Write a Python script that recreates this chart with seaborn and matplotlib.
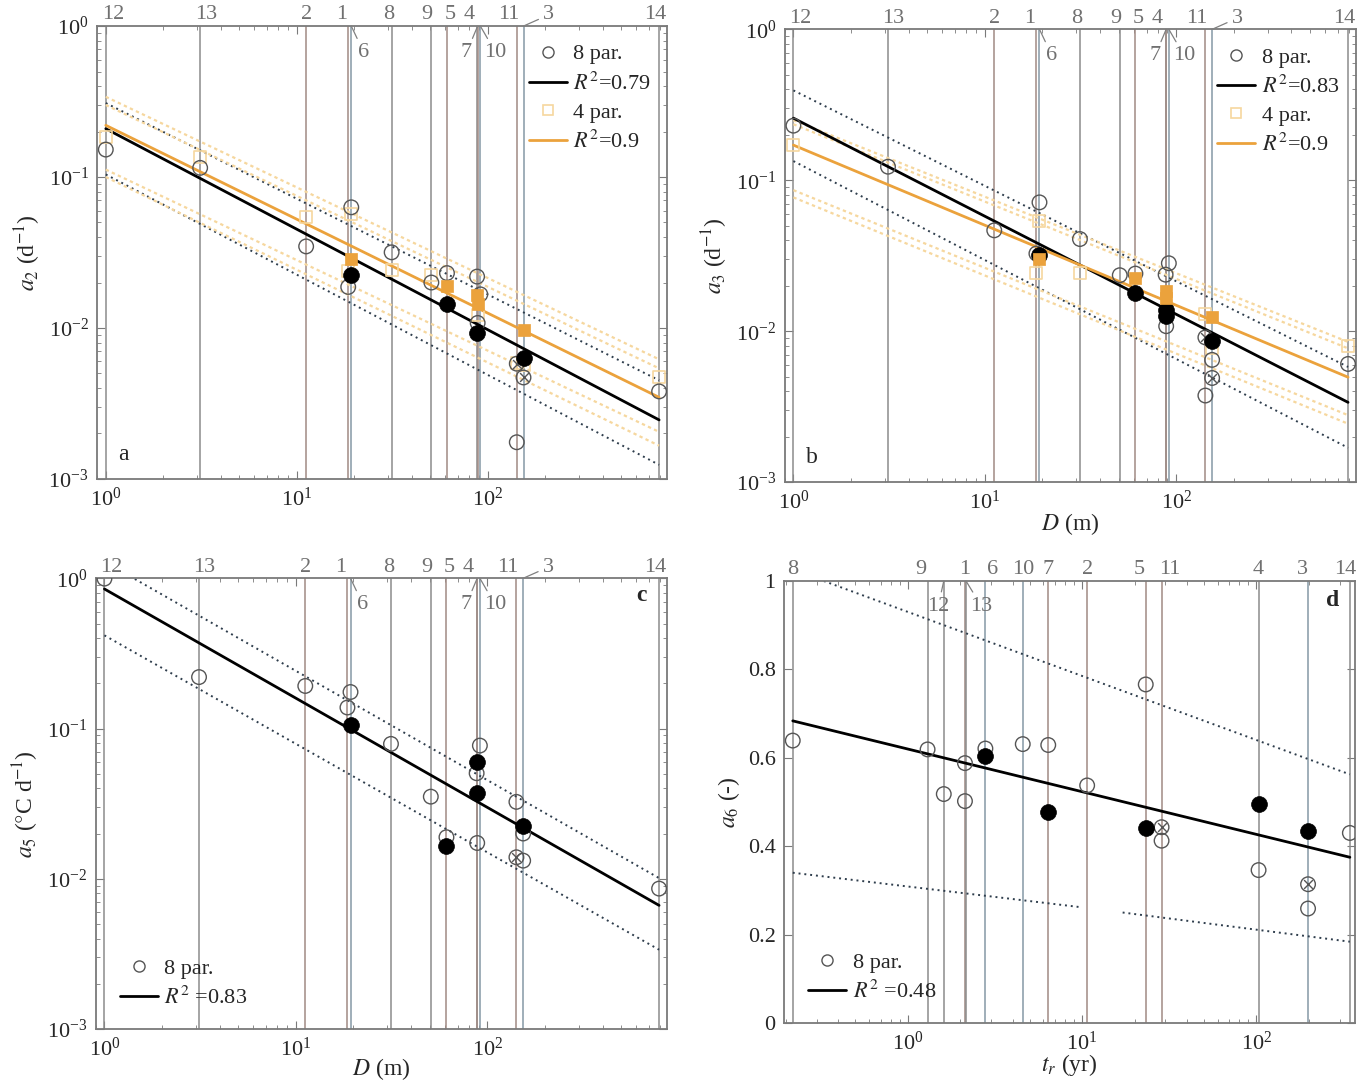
import matplotlib
matplotlib.use("Agg")
import matplotlib.pyplot as plt
import seaborn as sns
from matplotlib.lines import Line2D

sns.set_style("ticks")
plt.rcParams['font.family'] = ['Liberation Serif', 'DejaVu Serif']
plt.rcParams['mathtext.fontset'] = 'stix'
plt.rcParams['font.size'] = 16

# station order and depth D (m)
stations = ['12', '13', '2', '1', '6', '8', '9', '5', '4', '7', '10', '11', '3', '14']
depth = [1.0, 3.12, 11.2, 18.6, 19.3, 31.4, 50.7, 61.2, 88.0, 88.6, 91.5, 142, 154, 790]
# residence time t_r (yr)
st_d = ['8', '9', '12', '1', '13', '6', '10', '7', '2', '5', '11', '4', '3', '14']
tres = [0.219, 1.30, 1.61, 2.13, 2.16, 2.79, 4.57, 6.4, 10.7, 23.2, 28.6, 103, 198, 344]

# ---- panel a: a2 ----
open_a_x = [1.0, 3.12, 11.2, 18.6, 19.3, 31.4, 50.7, 61.2, 88.0, 91.5, 88.6, 142, 790]
open_a_y = [0.152, 0.115, 0.0347, 0.0187, 0.063, 0.0317, 0.020, 0.0231, 0.0219, 0.0167, 0.0108, 0.00175, 0.0038]
cross_a_x = [142, 154]
cross_a_y = [0.0058, 0.0047]
fill_a_x = [19.3, 61.2, 88.0, 154]
fill_a_y = [0.0223, 0.0144, 0.0092, 0.0063]
sq_a_x = [19.3, 61.2, 88.0, 88.6, 154]
sq_a_y = [0.0288, 0.0189, 0.0165, 0.0145, 0.0097]
pale_a_x = [1.0, 3.12, 11.2, 19.3, 18.6, 31.4, 50.7, 88.6, 142, 154, 790]
pale_a_y = [0.185, 0.135, 0.054, 0.057, 0.024, 0.0242, 0.0225, 0.0122, 0.0059, 0.0057, 0.0047]
fit_a = [0.209, 0.00246]
fit4_a = [0.22, 0.00347]
band_a = [[0.309, 0.0045], [0.104, 0.00124]]
band4_a = [[0.34, 0.0062], [0.30, 0.0054], [0.112, 0.00205], [0.10, 0.00166]]

# ---- panel b: a3 ----
open_b_x = [1.0, 3.12, 11.2, 18.6, 19.3, 31.4, 50.7, 61.2, 88.0, 91.5, 88.6, 142, 154, 790]
open_b_y = [0.230, 0.123, 0.0466, 0.0327, 0.0714, 0.0408, 0.0235, 0.0241, 0.0237, 0.0282, 0.0108, 0.00375, 0.00646, 0.00607]
cross_b_x = [142, 154]
cross_b_y = [0.0091, 0.0049]
fill_b_x = [19.3, 61.2, 88.0, 88.6, 154]
fill_b_y = [0.0322, 0.018, 0.0139, 0.0127, 0.00863]
sq_b_x = [19.3, 61.2, 88.0, 88.6, 154]
sq_b_y = [0.030, 0.0225, 0.0185, 0.0167, 0.0124]
pale_b_x = [1.0, 19.3, 18.6, 31.4, 142, 154, 790]
pale_b_y = [0.171, 0.054, 0.0242, 0.0244, 0.0130, 0.0078, 0.0080]
fit_b = [0.258, 0.00338]
fit4_b = [0.171, 0.00496]
band_b = [[0.394, 0.0058], [0.134, 0.00169]]
band4_b = [[0.25, 0.0085], [0.235, 0.0077], [0.086, 0.00278], [0.077, 0.00244]]

# ---- panel c: a5 ----
open_c_x = [1.0, 3.12, 11.2, 18.6, 19.3, 31.4, 50.7, 61.2, 88.0, 91.5, 88.6, 142, 154, 154, 790]
open_c_y = [0.995, 0.22, 0.192, 0.138, 0.175, 0.079, 0.0352, 0.0189, 0.0504, 0.077, 0.0173, 0.0325, 0.020, 0.0132, 0.0086]
cross_c_x = [142]
cross_c_y = [0.0139]
fill_c_x = [19.3, 61.2, 88.0, 88.0, 154]
fill_c_y = [0.105, 0.0166, 0.0598, 0.0371, 0.0225]
fit_c = [0.849, 0.00665]
band_c = [[1.29, 0.0101], [0.417, 0.00337]]

# ---- panel d: a6 ----
open_d_x = [0.219, 1.30, 1.61, 2.13, 2.13, 2.79, 4.57, 6.4, 10.7, 23.2, 28.6, 103, 198, 344]
open_d_y = [0.639, 0.619, 0.518, 0.588, 0.502, 0.621, 0.631, 0.629, 0.5375, 0.766, 0.4125, 0.346, 0.259, 0.43]
cross_d_x = [28.6, 198]
cross_d_y = [0.443, 0.314]
fill_d_x = [2.79, 6.4, 23.2, 103, 198]
fill_d_y = [0.604, 0.478, 0.441, 0.4945, 0.434]
fit_d_x = [0.219, 344]
fit_d_y = [0.6836, 0.375]
up_d_x = [0.33, 344]
up_d_y = [1.0, 0.5625]
low1_d_x = [0.219, 9.86]
low1_d_y = [0.34, 0.262]
low2_d_x = [17.1, 344]
low2_d_y = [0.25, 0.184]

# styling
GREY = '#555555'
ORANGE = '#EBA23C'
PALE = '#F6D79E'
DOT = '#2E3D4C'
BROWN = '#A08A84'
BLUE = '#8598A6'
DARK = '#8C8C8C'
col_st = {'12': DARK, '13': DARK, '2': BROWN, '1': BROWN, '6': BLUE, '8': DARK, '9': DARK,
          '5': BROWN, '4': DARK, '7': BROWN, '10': BLUE, '11': BROWN, '3': BLUE, '14': DARK}

# label offsets (points) and leader flag
lab_abc = {'12': (5, 8, 0), '13': (4, 8, 0), '2': (0, 8, 0), '1': (-5, 8, 0), '6': (9, -19, 1),
           '8': (-2, 8, 0), '9': (-3, 8, 0), '5': (2, 8, 0), '4': (-6, 8, 0), '7': (-8, -19, 1),
           '10': (11, -19, 1), '11': (-6, 8, 0), '3': (18, 8, 1), '14': (-3, 8, 0)}
lab_d = {'8': (0, 8, 0), '9': (-5, 8, 0), '12': (-4, -18, 1), '1': (0, 8, 0), '13': (11, -18, 1),
         '6': (5, 8, 0), '10': (0, 8, 0), '7': (0, 8, 0), '2': (0, 8, 0), '5': (-5, 8, 0),
         '11': (6, 8, 0), '4': (0, 8, 0), '3': (-4, 8, 0), '14': (-3, 8, 0)}

fig = plt.figure(figsize=(13.67, 10.86), dpi=100)
ax_a = fig.add_axes([0.071, 0.559, 0.417, 0.417])
ax_b = fig.add_axes([0.574, 0.556, 0.418, 0.417])
ax_c = fig.add_axes([0.070, 0.0525, 0.418, 0.415])
ax_d = fig.add_axes([0.5735, 0.058, 0.418, 0.407])


def station_lines(ax, names, xs, labs):
    for n, x in zip(names, xs):
        ax.axvline(x, color=col_st[n], lw=1.1, zorder=1)
        dx, dy, lead = labs[n]
        ap = dict(arrowstyle='-', color='#808080', lw=0.9, shrinkA=1, shrinkB=0) if lead else None
        ax.annotate(n, xy=(x, 1), xycoords=ax.get_xaxis_transform(), xytext=(dx, dy),
                    textcoords='offset points', ha='center', va='center', color='#707070',
                    fontsize=16, arrowprops=ap, annotation_clip=False)


def style(ax):
    for s in ax.spines.values():
        s.set_color('#7a7a7a')
        s.set_linewidth(1.3)
    ax.tick_params(which='both', direction='in', top=True, right=True, color='#7a7a7a',
                   labelsize=16, pad=6)
    ax.tick_params(which='major', length=6)
    ax.tick_params(which='minor', length=3)


def pts(ax, x, y, kind):
    if kind == 'open':
        sns.scatterplot(x=x, y=y, ax=ax, marker='o', s=110, facecolors='none', edgecolor=GREY,
                        linewidth=1.0, zorder=4)
    elif kind == 'cross':
        sns.scatterplot(x=x, y=y, ax=ax, marker='o', s=110, facecolors='none', edgecolor=GREY,
                        linewidth=1.0, zorder=4)
        sns.scatterplot(x=x, y=y, ax=ax, marker='x', s=40, color=GREY, linewidth=1.0, zorder=4)
    elif kind == 'fill':
        sns.scatterplot(x=x, y=y, ax=ax, marker='o', s=130, color='black', edgecolor='black',
                        linewidth=0.5, zorder=5)
    elif kind == 'sq':
        sns.scatterplot(x=x, y=y, ax=ax, marker='s', s=75, color=ORANGE, edgecolor=ORANGE,
                        linewidth=0.5, zorder=6)
    elif kind == 'pale':
        sns.scatterplot(x=x, y=y, ax=ax, marker='s', s=75, facecolors='none', edgecolor=PALE,
                        linewidth=1.2, zorder=3)


def seg(ax, x, y, **kw):
    sns.lineplot(x=x, y=y, ax=ax, estimator=None, sort=False, **kw)


log_panels = [
    (ax_a, open_a_x, open_a_y, cross_a_x, cross_a_y, fill_a_x, fill_a_y, fit_a, band_a),
    (ax_b, open_b_x, open_b_y, cross_b_x, cross_b_y, fill_b_x, fill_b_y, fit_b, band_b),
    (ax_c, open_c_x, open_c_y, cross_c_x, cross_c_y, fill_c_x, fill_c_y, fit_c, band_c),
]
xend = [depth[0], depth[-1]]
for ax, ox, oy, cx, cy, fx, fy, fit, band in log_panels:
    ax.set_xscale('log')
    ax.set_yscale('log')
    station_lines(ax, stations, depth, lab_abc)
    for b in band:
        seg(ax, xend, b, color=DOT, lw=1.4, linestyle=(0, (1, 2)), zorder=2)
    seg(ax, xend, fit, color='black', lw=2.0, zorder=3)
    pts(ax, ox, oy, 'open')
    pts(ax, cx, cy, 'cross')
    pts(ax, fx, fy, 'fill')
    ax.set_xlim(0.9, 870)
    ax.set_ylim(1e-3, 1)
    style(ax)

for ax, sx, sy, px, py, fit4, band4 in [(ax_a, sq_a_x, sq_a_y, pale_a_x, pale_a_y, fit4_a, band4_a),
                                        (ax_b, sq_b_x, sq_b_y, pale_b_x, pale_b_y, fit4_b, band4_b)]:
    for b in band4:
        seg(ax, xend, b, color=PALE, lw=1.6, linestyle=(0, (1.5, 1.5)), zorder=2)
    seg(ax, xend, fit4, color=ORANGE, lw=2.0, zorder=3)
    pts(ax, px, py, 'pale')
    pts(ax, sx, sy, 'sq')

# panel d
ax_d.set_xscale('log')
station_lines(ax_d, st_d, tres, lab_d)
seg(ax_d, up_d_x, up_d_y, color=DOT, lw=1.4, linestyle=(0, (1, 2)), zorder=2)
seg(ax_d, low1_d_x, low1_d_y, color=DOT, lw=1.4, linestyle=(0, (1, 2)), zorder=2)
seg(ax_d, low2_d_x, low2_d_y, color=DOT, lw=1.4, linestyle=(0, (1, 2)), zorder=2)
seg(ax_d, fit_d_x, fit_d_y, color='black', lw=2.0, zorder=3)
pts(ax_d, open_d_x, open_d_y, 'open')
pts(ax_d, cross_d_x, cross_d_y, 'cross')
pts(ax_d, fill_d_x, fill_d_y, 'fill')
ax_d.set_xlim(0.195, 370)
ax_d.set_ylim(0, 1)
ax_d.set_yticks([0, 0.2, 0.4, 0.6, 0.8, 1])
ax_d.set_yticklabels(['0', '0.2', '0.4', '0.6', '0.8', '1'])
style(ax_d)

# labels
ax_a.set_ylabel(r'$a_2$ (d$^{-1}$)', fontsize=17)
ax_b.set_ylabel(r'$a_3$ (d$^{-1}$)', fontsize=17)
ax_c.set_ylabel(r'$a_5$ ($\degree$C d$^{-1}$)', fontsize=17)
ax_d.set_ylabel(r'$a_6$ (-)', fontsize=17)
ax_b.set_xlabel(r'$D$ (m)', fontsize=17, labelpad=-2)
ax_c.set_xlabel(r'$D$ (m)', fontsize=17, labelpad=-3)
ax_d.set_xlabel(r'$t_r$ (yr)', fontsize=17, labelpad=-2)

ax_a.text(0.037, 0.042, 'a', transform=ax_a.transAxes, fontsize=17)
ax_b.text(0.037, 0.042, 'b', transform=ax_b.transAxes, fontsize=17)
ax_c.text(0.955, 0.962, 'c', transform=ax_c.transAxes, fontsize=17, fontweight='bold',
          ha='center', va='center')
ax_d.text(0.960, 0.957, 'd', transform=ax_d.transAxes, fontsize=17, fontweight='bold',
          ha='center', va='center')

# legends
h_open = Line2D([], [], marker='o', ls='none', mfc='none', mec=GREY, ms=8, mew=1.0)
h_black = Line2D([], [], color='black', lw=2.0)
h_pale = Line2D([], [], marker='s', ls='none', mfc='none', mec=PALE, ms=7, mew=1.2)
h_orng = Line2D([], [], color=ORANGE, lw=2.0)
leg_kw = dict(frameon=False, fontsize=16, handlelength=1.7, handletextpad=0.3,
              labelspacing=0.35, borderpad=0.2)
ax_a.legend([h_open, h_black, h_pale, h_orng], ['8 par.', r'$R^2$=0.79', '4 par.', r'$R^2$=0.9'],
            loc='upper left', bbox_to_anchor=(0.73, 0.995), **leg_kw)
ax_b.legend([h_open, h_black, h_pale, h_orng], ['8 par.', r'$R^2$=0.83', '4 par.', r'$R^2$=0.9'],
            loc='upper left', bbox_to_anchor=(0.73, 0.995), **leg_kw)
ax_c.legend([h_open, h_black], ['8 par.', r'$R^2$ =0.83'], loc='lower left',
            bbox_to_anchor=(0.015, 0.01), **leg_kw)
ax_d.legend([h_open, h_black], ['8 par.', r'$R^2$ =0.48'], loc='lower left',
            bbox_to_anchor=(0.015, 0.01), **leg_kw)

fig.savefig('out.png', dpi=100, facecolor='white')
